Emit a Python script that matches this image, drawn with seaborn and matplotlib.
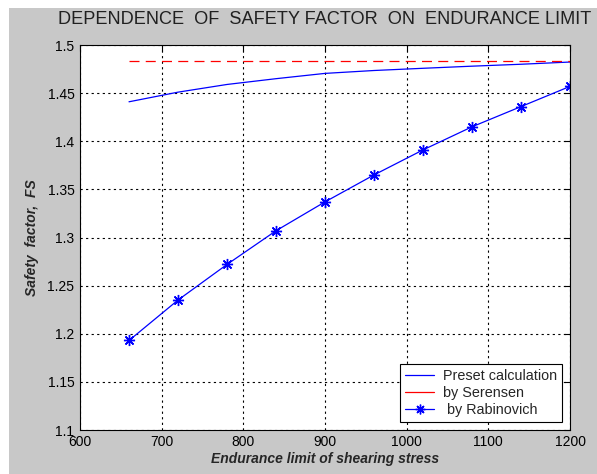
import numpy as np
import pandas as pd
import matplotlib
matplotlib.use("Agg")
import matplotlib.pyplot as plt
import matplotlib.patches as mpatches
import seaborn as sns

# Data
stress = [660, 720, 780, 840, 900, 960, 1020, 1080, 1140, 1200]
preset = [1.441, 1.451, 1.459, 1.465, 1.4705, 1.4735, 1.4758, 1.478, 1.480, 1.4823]
serensen = [1.4834] * 10
rabinovich = [1.193, 1.235, 1.272, 1.307, 1.337, 1.365, 1.391, 1.415, 1.436, 1.457]
xticks = [600, 700, 800, 900, 1000, 1100, 1200]
yticks = [1.1, 1.15, 1.2, 1.25, 1.3, 1.35, 1.4, 1.45, 1.5]

sns.set_style("white")
plt.rcParams['font.family'] = ['Liberation Sans', 'DejaVu Sans']

fig = plt.figure(figsize=(5.97, 4.74), dpi=100, facecolor='#c8c8c8')
# white border strips at top and left as in the reference screenshot
fig.patches.append(mpatches.Rectangle((0, 0), 9/597, 1, transform=fig.transFigure,
                                      facecolor='white', edgecolor='none', zorder=-1))
fig.patches.append(mpatches.Rectangle((0, 1-8/474), 1, 8/474, transform=fig.transFigure,
                                      facecolor='white', edgecolor='none', zorder=-1))
ax = fig.add_axes([80/597, 1-430/474, 490/597, 385/474])
ax.set_facecolor('white')

df = pd.DataFrame({'x': stress, 'preset': preset, 'serensen': serensen, 'rab': rabinovich})

sns.lineplot(data=df, x='x', y='preset', ax=ax, color='#0000ff', lw=0.9,
             label='Preset calculation')
sns.lineplot(data=df, x='x', y='serensen', ax=ax, color='#ff0000', lw=0.9,
             label='by Serensen')
ax.lines[-1].set_dashes([8, 5])
sns.lineplot(data=df, x='x', y='rab', ax=ax, color='#0000ff', lw=0.9,
             marker=(8, 2, 0), markersize=8, markeredgewidth=1.0, markeredgecolor='#0000ff',
             label=' by Rabinovich')

ax.set_xlim(600, 1200)
ax.set_ylim(1.1, 1.5)
ax.set_xticks(xticks)
ax.set_xticklabels([str(t) for t in xticks])
ax.set_yticks(yticks)
ax.set_yticklabels([f"{t:g}" for t in yticks])
ax.tick_params(direction='in', length=4, labelsize=10, colors='black', width=0.8,
               top=True, right=True)
ax.tick_params(axis='y', pad=4)
ax.grid(True, color='black', linestyle=(0, (2, 3)), linewidth=0.8)
for s in ax.spines.values():
    s.set_color('black')
    s.set_linewidth(0.8)

ax.set_xlabel('Endurance limit of shearing stress', fontsize=10, fontweight='bold',
              style='italic', labelpad=2)
ax.set_ylabel('Safety  factor,  FS', fontsize=10, fontweight='bold', style='italic',
              labelpad=6)
ax.set_title('DEPENDENCE  OF  SAFETY FACTOR  ON  ENDURANCE LIMIT', fontsize=13.1,
             pad=15, color='#202020')

leg = ax.legend(loc='lower right', fontsize=10.4, frameon=True, fancybox=False,
                edgecolor='black', framealpha=1, borderaxespad=0.55,
                handlelength=2.0, handletextpad=0.6, labelspacing=0.22, borderpad=0.35)
leg.get_frame().set_linewidth(0.8)
for line in leg.get_lines():
    line.set_linestyle('-')
    line.set_dashes([])
leg.get_lines()[2].set_markersize(7)

fig.savefig('out.png', dpi=100, facecolor=fig.get_facecolor())
